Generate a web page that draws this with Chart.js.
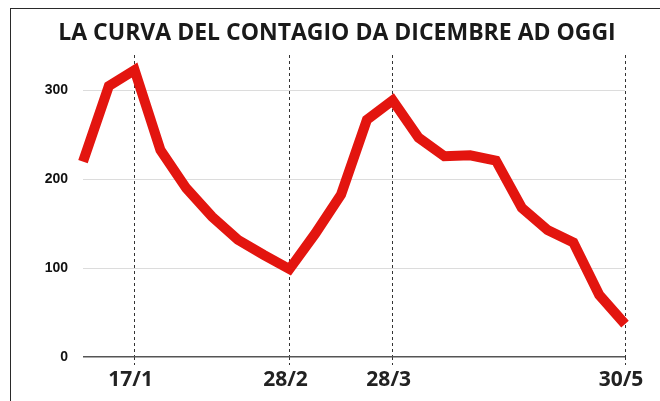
<!DOCTYPE html>
<html>
<head>
<meta charset="utf-8">
<script src="https://cdn.jsdelivr.net/npm/chart.js@4"></script>
<style>
  html, body { margin: 0; padding: 0; background: #fff; }
  #wrap { position: relative; width: 660px; height: 401px; overflow: hidden; }
  #frame { position: absolute; left: 10px; top: 8px; right: -5px; bottom: -5px; z-index: 2;
           border-left: 1.5px solid #2a2a2a; border-top: 1.5px solid #2a2a2a; }
  canvas { position: absolute; left: 0; top: 0; z-index: 1; }
</style>
</head>
<body>
<div id="wrap">
  <div id="frame"></div>
  <canvas id="chart" width="660" height="401"></canvas>
</div>
<script>
// weekly points, only some dates are labelled on the axis
const tickLabels = ['', '', '17/1', '', '', '', '', '', '28/2', '', '', '', '28/3', '', '', '', '', '', '', '', '', '30/5'];
const cases = [220, 305, 323, 233, 190, 158, 132, 115, 99, 139, 183, 267, 289, 247, 226, 227, 221, 168, 143, 129, 70, 37];
const yTicks = [0, 100, 200, 300];

const canvas = document.getElementById('chart');

const myChart = new Chart(canvas, {
    type: 'line',
    data: {
        labels: tickLabels,
        datasets: [{
            label: 'Contagi',
            data: cases,
            borderColor: '#e3150f',
            borderWidth: 10,
            borderJoinStyle: 'miter',
            borderCapStyle: 'butt',
            pointRadius: 0,
            tension: 0,
            fill: false
        }]
    },
    options: {
        responsive: false,
        animation: false,
        layout: { padding: { left: 14, right: 0, top: 0, bottom: 0 } },
        plugins: {
            legend: { display: false },
            tooltip: { enabled: false },
            title: {
                display: true,
                text: 'LA CURVA DEL CONTAGIO DA DICEMBRE AD OGGI',
                color: '#1a1a1a',
                font: { family: 'Open Sans', size: 23, weight: 'bold', lineHeight: 1.2 },
                padding: { top: 20, bottom: 7.4 }
            }
        },
        scales: {
            x: {
                z: 1,
                offset: false,
                afterFit: (s) => { s.height = 44; },
                border: { display: false, dash: [3, 3] },
                grid: {
                    color: (ctx) => (ctx.tick && ctx.tick.label ? '#333' : 'transparent'),
                    tickColor: (ctx) => (ctx.tick && ctx.tick.label ? '#333' : 'transparent'),
                    lineWidth: 1,
                    drawTicks: true,
                    tickLength: 8,
                    tickBorderDash: [3, 3]
                },
                ticks: {
                    autoSkip: false,
                    maxRotation: 0,
                    padding: 2,
                    labelOffset: -4,
                    color: '#222',
                    font: { family: 'Open Sans', size: 21, weight: 'bold' }
                }
            },
            y: {
                min: 0,
                max: 340,
                afterFit: (s) => { s.width = 69; },
                afterBuildTicks: (s) => { s.ticks = yTicks.map(v => ({ value: v })); },
                border: { display: false },
                grid: {
                    color: (ctx) => (ctx.tick && ctx.tick.value === 0 ? '#555' : '#dcdcdc'),
                    lineWidth: (ctx) => (ctx.tick && ctx.tick.value === 0 ? 1.5 : 1),
                    drawTicks: false
                },
                ticks: {
                    padding: 15,
                    color: '#111',
                    font: { family: 'Liberation Sans', size: 14, weight: 'bold' }
                }
            },
            // empty axis on the right, only to keep a margin there
            yRight: {
                position: 'right',
                afterFit: (s) => { s.width = 35; },
                grid: { display: false, drawTicks: false },
                border: { display: false },
                ticks: { display: false }
            }
        }
    }
});
</script>
</body>
</html>
